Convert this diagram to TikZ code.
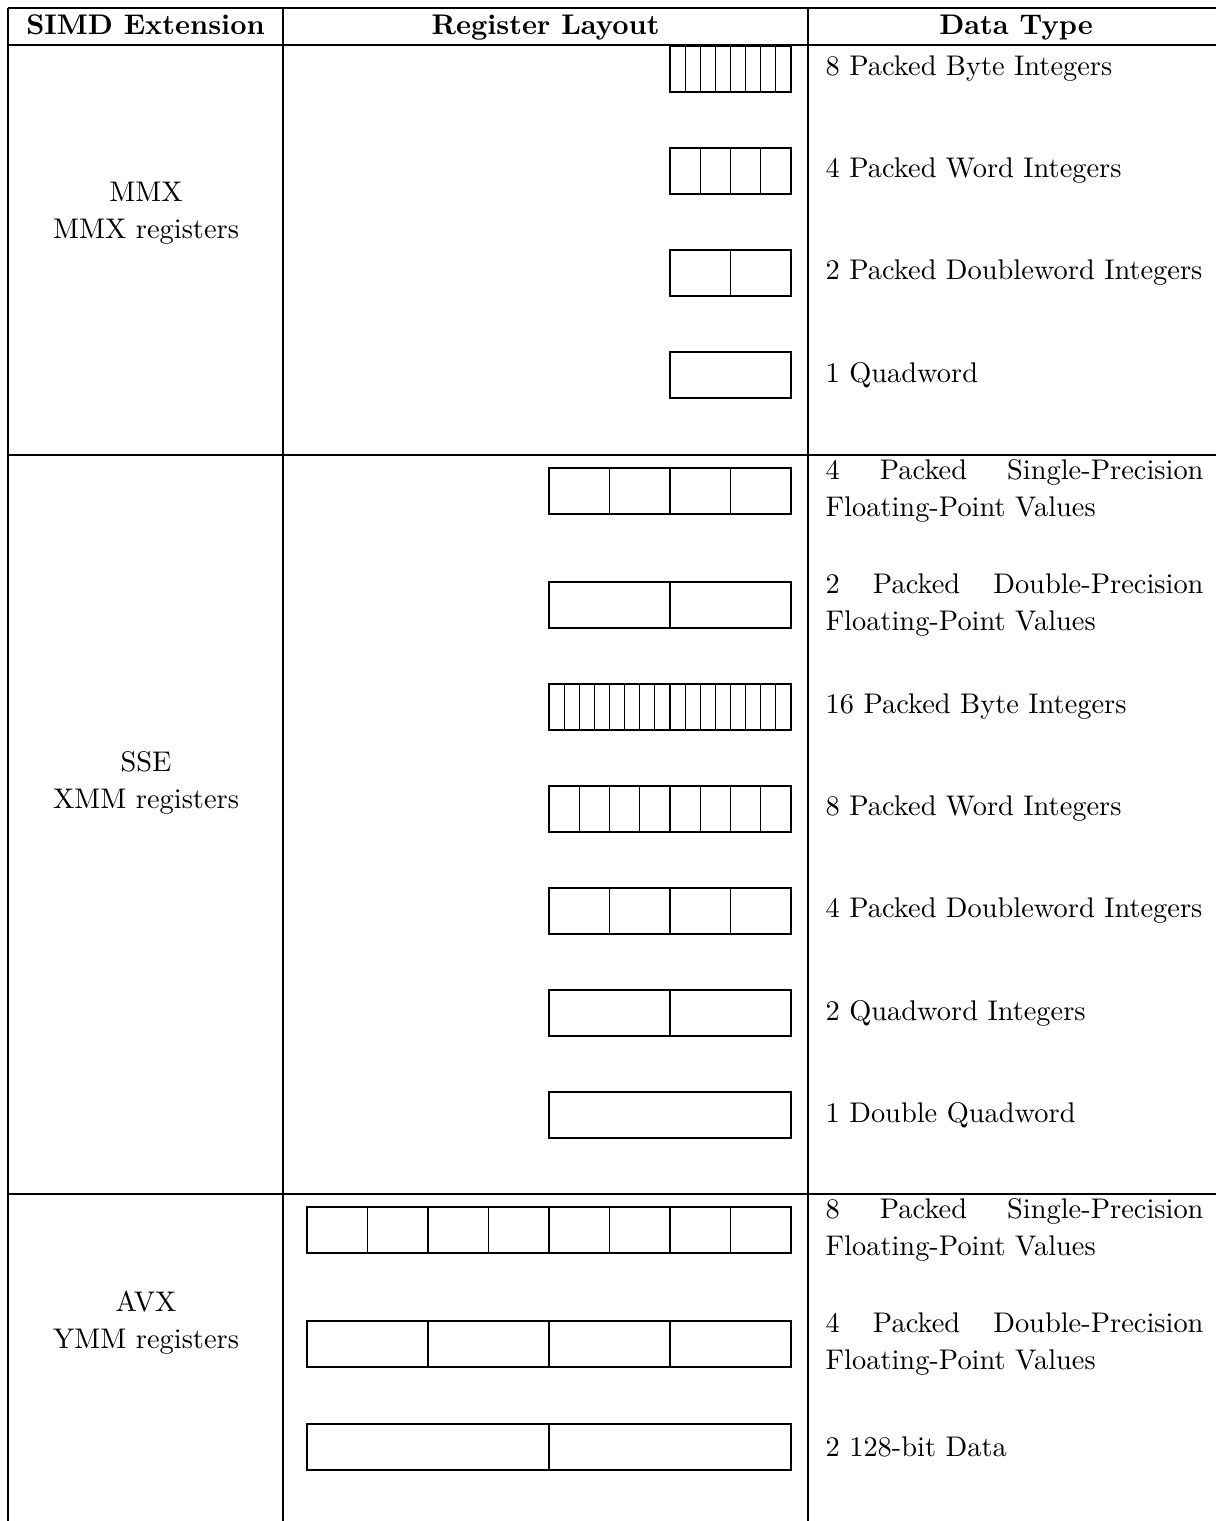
\documentclass[tikz,border=0pt]{standalone}
\usetikzlibrary{positioning,calc}

\tikzset{
  rule/.style={line width=0.4pt},
  head/.style={anchor=base, inner sep=0pt, font=\bfseries},
  ext/.style={align=center, inner sep=0pt, font=\fontsize{10}{13}\selectfont},
  reg/.style={draw, line width=0.4pt, inner sep=0pt, outer sep=0pt,
    minimum height=16.2pt, anchor=north east},
  dtype/.style={inner sep=0pt, text width=133pt, align=justify,
    font=\fontsize{10}{13}\selectfont, right=12pt of #1},
}

% register: name, top, bits, lanes
\newcommand{\regbox}[4]{%
  \node[reg, minimum width=#3*0.6656pt] (#1) at (791,#2) {};
  \foreach \k in {1,...,#4}
    \draw[line width=0.4pt] ($(#1.north west)!\k/#4!(#1.north east)$)
      -- ($(#1.south west)!\k/#4!(#1.south east)$);
}

\begin{document}
\begin{tikzpicture}[x=0.352pt,y=-0.352pt]
  \useasboundingbox (0,0) rectangle (1216,1521);

  % table rules
  \draw[rule] (8,8) -- (1216,8);
  \draw[rule] (8,45) -- (1216,45);
  \draw[rule] (8,455) -- (1216,455);
  \draw[rule] (8,1194) -- (1216,1194);
  \draw[rule] (8,8) -- (8,1521);
  \draw[rule] (283,8) -- (283,1521);
  \draw[rule] (808,8) -- (808,1521);

  % header
  \node[head] (hext) at (145.5,34) {SIMD Extension};
  \node[head] (hreg) at (545.5,34) {Register Layout};
  \node[head] (htype) at (1016,34) {Data Type};

  % extensions
  \node[ext] (mmx) at (146,213) {MMX\\MMX registers};
  \node[ext] (sse) at (146,783) {SSE\\XMM registers};
  \node[ext] (avx) at (146,1323) {AVX\\YMM registers};

  % MMX
  \regbox{mmxB}{46}{64}{8}
  \regbox{mmxW}{148}{64}{4}
  \regbox{mmxD}{250}{64}{2}
  \regbox{mmxQ}{352}{64}{1}
  \node[dtype=mmxB] (tmmxB) {8 Packed Byte Integers};
  \node[dtype=mmxW] (tmmxW) {4 Packed Word Integers};
  \node[dtype=mmxD] (tmmxD) {2 Packed Doubleword Integers};
  \node[dtype=mmxQ] (tmmxQ) {1 Quadword};

  % SSE
  \regbox{ssePS}{468}{128}{4}
  \regbox{ssePD}{582}{128}{2}
  \regbox{sseB}{684}{128}{16}
  \regbox{sseW}{786}{128}{8}
  \regbox{sseD}{888}{128}{4}
  \regbox{sseQ}{990}{128}{2}
  \regbox{sseDQ}{1092}{128}{1}
  \node[dtype=ssePS] (tssePS) {4 Packed Single-Precision Floating-Point Values};
  \node[dtype=ssePD] (tssePD) {2 Packed Double-Precision Floating-Point Values};
  \node[dtype=sseB] (tsseB) {16 Packed Byte Integers};
  \node[dtype=sseW] (tsseW) {8 Packed Word Integers};
  \node[dtype=sseD] (tsseD) {4 Packed Doubleword Integers};
  \node[dtype=sseQ] (tsseQ) {2 Quadword Integers};
  \node[dtype=sseDQ] (tsseDQ) {1 Double Quadword};

  % AVX
  \regbox{avxPS}{1207}{256}{8}
  \regbox{avxPD}{1321}{256}{4}
  \regbox{avxDQ}{1424}{256}{2}
  \node[dtype=avxPS] (tavxPS) {8 Packed Single-Precision Floating-Point Values};
  \node[dtype=avxPD] (tavxPD) {4 Packed Double-Precision Floating-Point Values};
  \node[dtype=avxDQ] (tavxDQ) {2 128-bit Data};
\end{tikzpicture}
\end{document}
